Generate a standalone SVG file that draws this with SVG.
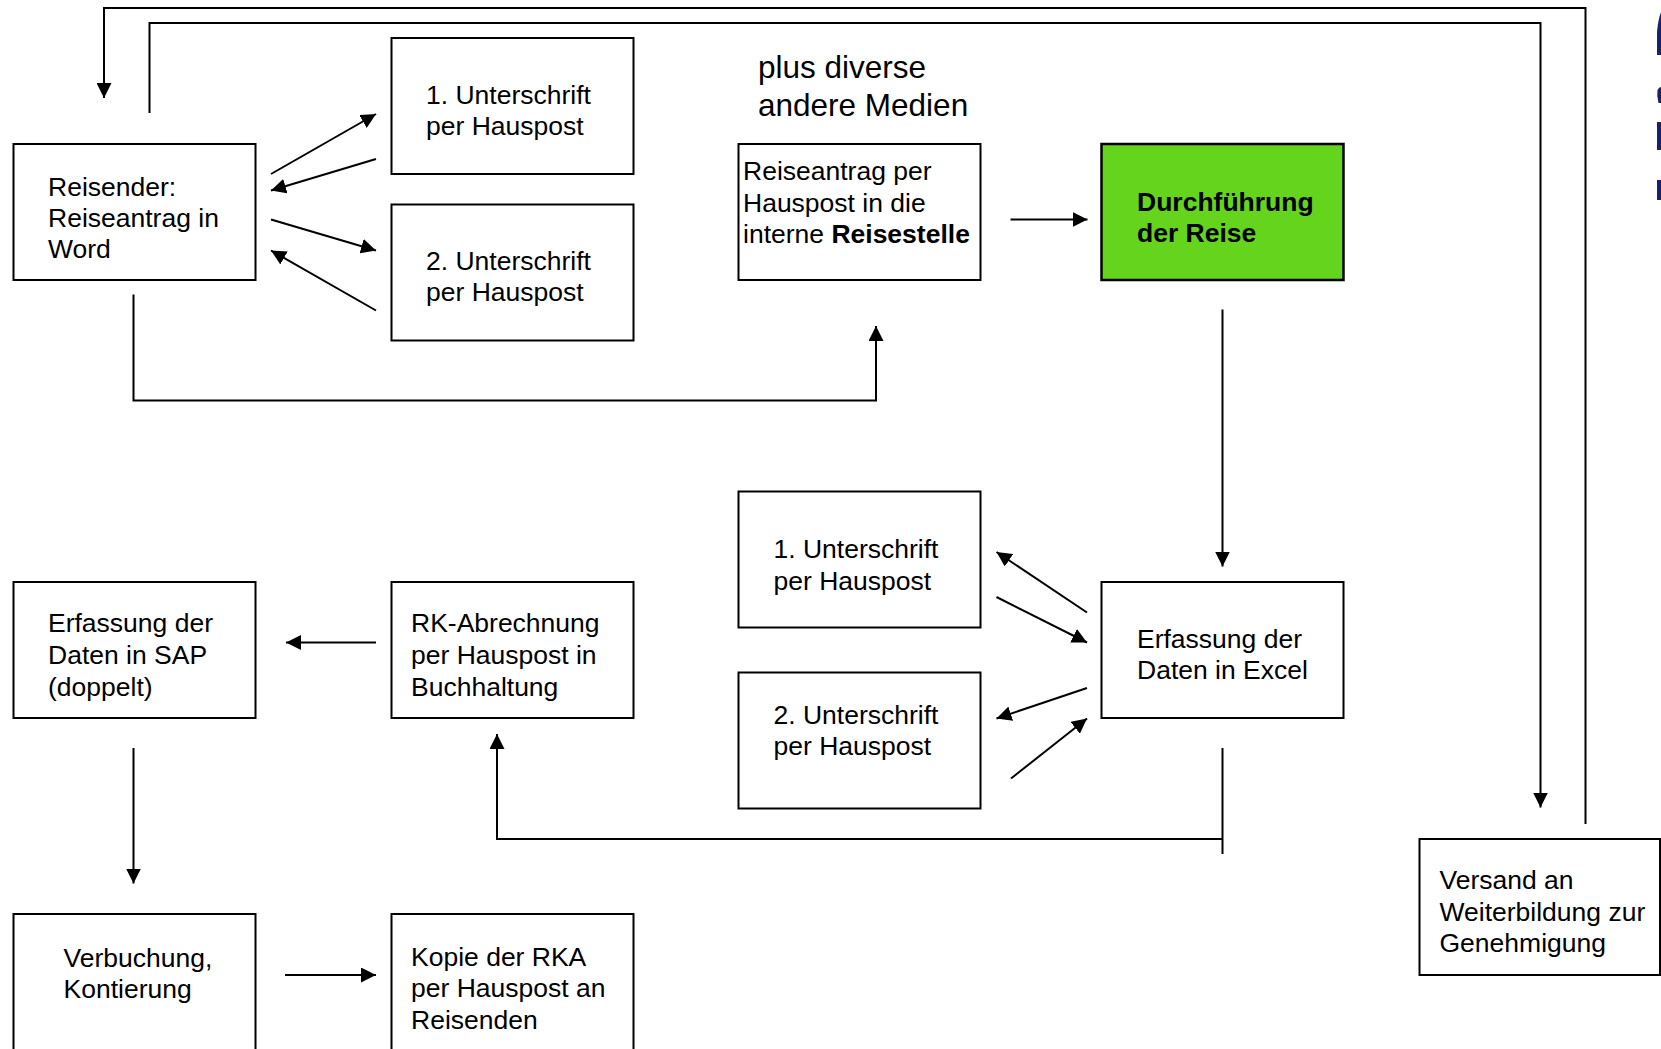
<svg xmlns="http://www.w3.org/2000/svg" width="1661" height="1049" viewBox="0 0 1661 1049">
<style>
.box{fill:#ffffff;stroke:#000000;stroke-width:2}
.green{fill:#64D41C;stroke:#000000;stroke-width:2.5}
.t{font-family:"Liberation Sans",Arial,sans-serif;font-size:26.5px;fill:#000000}
.b{font-weight:bold}
.big{font-size:31.5px}
.c{fill:none;stroke:#000000;stroke-width:2}
.a{marker-end:url(#ah)}
.logo{fill:#14236B}
</style>
<defs>
<marker id="ah" viewBox="0 0 15 15" refX="15" refY="7.5" markerWidth="15" markerHeight="15" markerUnits="userSpaceOnUse" orient="auto">
<path d="M0,0 L15,7.5 L0,15 Z" fill="#000000"/>
</marker>
</defs>
<rect width="1661" height="1049" fill="#ffffff"/>

<g id="logo">
<path class="logo" d="M1661,12 L1661,55 L1657,55 L1657,32 Q1658,20 1661,12 Z"/>
<path class="logo" d="M1661,87 L1661,103 L1658.5,103 Q1656.5,96 1657.5,90 Q1659,87 1661,87 Z"/>
<rect class="logo" x="1657" y="122" width="4" height="28"/>
<rect class="logo" x="1657" y="180" width="4" height="20"/>
</g>

<g id="connectors">
<path class="c a" d="M1585.5,824 L1585.5,8 L104,8 L104,98"/>
<path class="c a" d="M149.5,113 L149.5,23 L1540.5,23 L1540.5,807.5"/>
<line class="c a" x1="271" y1="174" x2="376" y2="114"/>
<line class="c a" x1="376" y1="159" x2="271" y2="190.5"/>
<line class="c a" x1="271" y1="219.5" x2="376" y2="250.5"/>
<line class="c a" x1="376" y1="310.5" x2="271" y2="250.5"/>
<path class="c a" d="M133.5,294.5 L133.5,400.5 L876,400.5 L876,326"/>
<line class="c a" x1="1010.5" y1="219.5" x2="1087.5" y2="219.5"/>
<line class="c a" x1="1222.5" y1="309.5" x2="1222.5" y2="566.5"/>
<line class="c a" x1="1087" y1="612.5" x2="996.5" y2="552"/>
<line class="c a" x1="996.5" y1="597" x2="1087" y2="642.5"/>
<line class="c a" x1="1087" y1="688" x2="996.5" y2="718.5"/>
<line class="c a" x1="1011" y1="778.5" x2="1087" y2="718.5"/>
<line class="c" x1="1222.5" y1="748" x2="1222.5" y2="854"/>
<path class="c a" d="M1222.5,839 L497,839 L497,734"/>
<line class="c a" x1="376" y1="642.5" x2="286" y2="642.5"/>
<line class="c a" x1="133.5" y1="748" x2="133.5" y2="883.5"/>
<line class="c a" x1="285" y1="975" x2="376" y2="975"/>
</g>

<g id="reisender">
<rect class="box" x="13.5" y="144" width="242" height="136"/>
<text class="t" x="48" y="196">Reisender:</text>
<text class="t" x="48" y="227">Reiseantrag in</text>
<text class="t" x="48" y="258">Word</text>
</g>

<g id="unterschrift1-oben">
<rect class="box" x="391.5" y="38" width="242" height="136"/>
<text class="t" x="426" y="104">1. Unterschrift</text>
<text class="t" x="426" y="135">per Hauspost</text>
</g>

<g id="unterschrift2-oben">
<rect class="box" x="391.5" y="204.5" width="242" height="136"/>
<text class="t" x="426" y="270">2. Unterschrift</text>
<text class="t" x="426" y="301">per Hauspost</text>
</g>

<g id="medien">
<text class="t big" x="758" y="78">plus diverse</text>
<text class="t big" x="758" y="116">andere Medien</text>
</g>

<g id="reiseantrag">
<rect class="box" x="738.5" y="144" width="242" height="136"/>
<text class="t" x="743" y="180">Reiseantrag per</text>
<text class="t" x="743" y="212">Hauspost in die</text>
<text class="t" x="743" y="243">interne <tspan class="b">Reisestelle</tspan></text>
</g>

<g id="durchfuehrung">
<rect class="green" x="1101.5" y="144" width="242" height="136"/>
<text class="t b" x="1137" y="211">Durchführung</text>
<text class="t b" x="1137" y="242">der Reise</text>
</g>

<g id="unterschrift1-unten">
<rect class="box" x="738.5" y="491.5" width="242" height="136"/>
<text class="t" x="773.5" y="558">1. Unterschrift</text>
<text class="t" x="773.5" y="589.5">per Hauspost</text>
</g>

<g id="unterschrift2-unten">
<rect class="box" x="738.5" y="672.5" width="242" height="136"/>
<text class="t" x="773.5" y="723.5">2. Unterschrift</text>
<text class="t" x="773.5" y="755">per Hauspost</text>
</g>

<g id="excel">
<rect class="box" x="1101.5" y="582" width="242" height="136"/>
<text class="t" x="1137" y="647.5">Erfassung der</text>
<text class="t" x="1137" y="679">Daten in Excel</text>
</g>

<g id="versand">
<rect class="box" x="1419.5" y="839" width="240.5" height="136"/>
<text class="t" x="1439.5" y="889">Versand an</text>
<text class="t" x="1439.5" y="921">Weiterbildung zur</text>
<text class="t" x="1439.5" y="952">Genehmigung</text>
</g>

<g id="sap">
<rect class="box" x="13.5" y="582" width="242" height="136"/>
<text class="t" x="48" y="632">Erfassung der</text>
<text class="t" x="48" y="664">Daten in SAP</text>
<text class="t" x="48" y="696">(doppelt)</text>
</g>

<g id="rk-abrechnung">
<rect class="box" x="391.5" y="582" width="242" height="136"/>
<text class="t" x="411" y="632">RK-Abrechnung</text>
<text class="t" x="411" y="664">per Hauspost in</text>
<text class="t" x="411" y="696">Buchhaltung</text>
</g>

<g id="verbuchung">
<rect class="box" x="13.5" y="914" width="242" height="136"/>
<text class="t" x="63.5" y="967">Verbuchung,</text>
<text class="t" x="63.5" y="998">Kontierung</text>
</g>

<g id="kopie">
<rect class="box" x="391.5" y="914" width="242" height="136"/>
<text class="t" x="411" y="966">Kopie der RKA</text>
<text class="t" x="411" y="997">per Hauspost an</text>
<text class="t" x="411" y="1029">Reisenden</text>
</g>
</svg>
